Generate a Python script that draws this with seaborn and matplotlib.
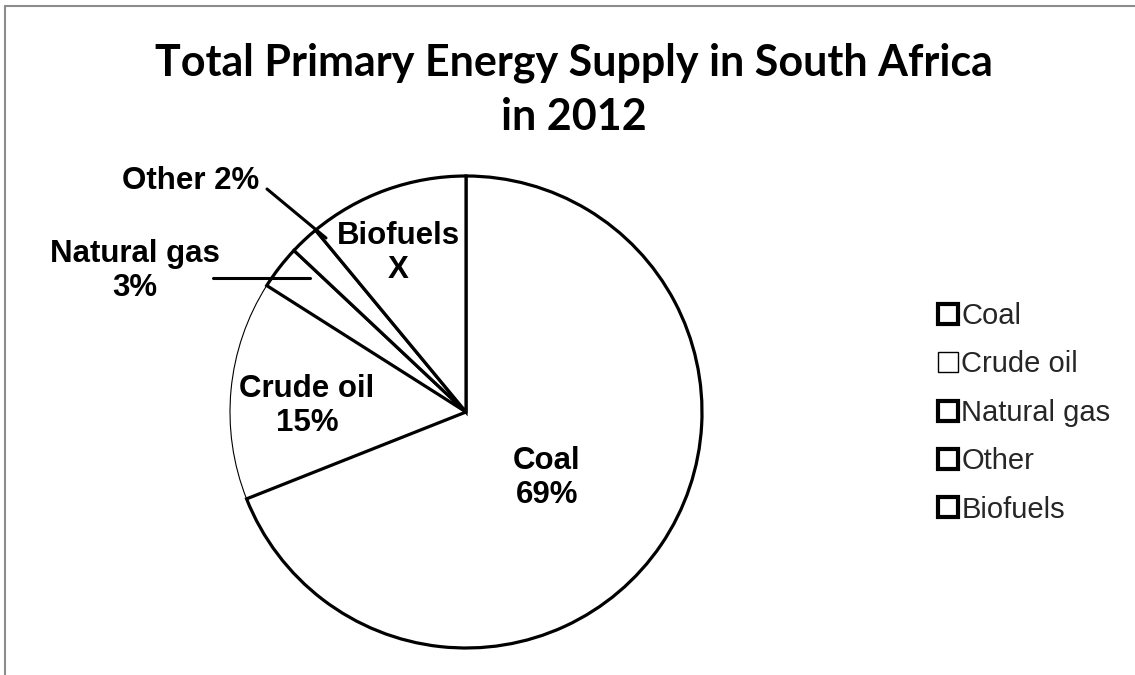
import matplotlib
matplotlib.use("Agg")
import matplotlib.pyplot as plt
from matplotlib.lines import Line2D
import seaborn as sns

# ---- data ----
categories = ["Coal", "Crude oil", "Natural gas", "Other", "Biofuels"]
shares = [69, 15, 3, 2, 11]
slice_labels = ["Coal\n69%", "Crude oil\n15%", "Natural gas\n3%", "Other 2%", "Biofuels\nX"]
title_text = "Total Primary Energy Supply in South Africa\nin 2012"

sns.set_theme(style="white")
plt.rcParams['font.family'] = ['Liberation Sans', 'DejaVu Sans']

W, H = 1135, 675
fig = plt.figure(figsize=(W / 100, H / 100), dpi=100)
ax = fig.add_axes([0, 0, 1, 1])

def py(y):
    return H - y

edge_widths = [2.3, 0.8, 2.3, 2.3, 2.3]
wedges, _ = ax.pie(shares, startangle=90, counterclock=False,
                   center=(466, py(412)), radius=236,
                   colors=["white"] * len(shares),
                   wedgeprops=dict(edgecolor="black", linewidth=2.3))
for w, lw in zip(wedges, edge_widths):
    w.set_linewidth(lw)
wedges[1].set_zorder(1)
for i, w in enumerate(wedges):
    if i != 1:
        w.set_zorder(2)

ax.set_xlim(0, W)
ax.set_ylim(0, H)
ax.set_axis_off()

# slice labels
label_pos = [(547, 478), (307, 406), (135, 271), (191, 181), (398, 253)]
for txt, (x, y) in zip(slice_labels, label_pos):
    ax.text(x, py(y), txt, ha="center", va="center", fontsize=22.5,
            fontweight="bold", linespacing=1.2, color="black", zorder=5)

# leader lines
ax.add_line(Line2D([213, 310], [py(278), py(278)], color="black", lw=2.2, zorder=4))
ax.add_line(Line2D([267, 326], [py(189), py(238)], color="black", lw=2.2, zorder=4))

# title
fig.text(574 / W, 1 - 90 / H, title_text, ha="center", va="center",
         fontsize=31, fontweight="bold", family=["Lato", "DejaVu Sans"],
         linespacing=1.42, color="black")

# legend
leg = ax.legend(wedges, categories, loc="upper left",
                bbox_to_anchor=(938 / W, 1 - 302 / H),
                bbox_transform=fig.transFigure,
                frameon=False, fontsize=21, handlelength=0.68, handleheight=0.68,
                handletextpad=0.12, labelspacing=0.70, borderpad=0, borderaxespad=0)
for p, lw in zip(leg.get_patches(), edge_widths):
    p.set_linewidth(3.0 if lw > 1 else 1.0)

# frame lines (top and left)
fig.add_artist(Line2D([5 / W, 1], [1 - 6 / H, 1 - 6 / H], color="#8c8c8c", lw=1.5))
fig.add_artist(Line2D([5 / W, 5 / W], [0, 1 - 6 / H], color="#8c8c8c", lw=1.5))

fig.savefig("out.png", dpi=100, facecolor="white")
